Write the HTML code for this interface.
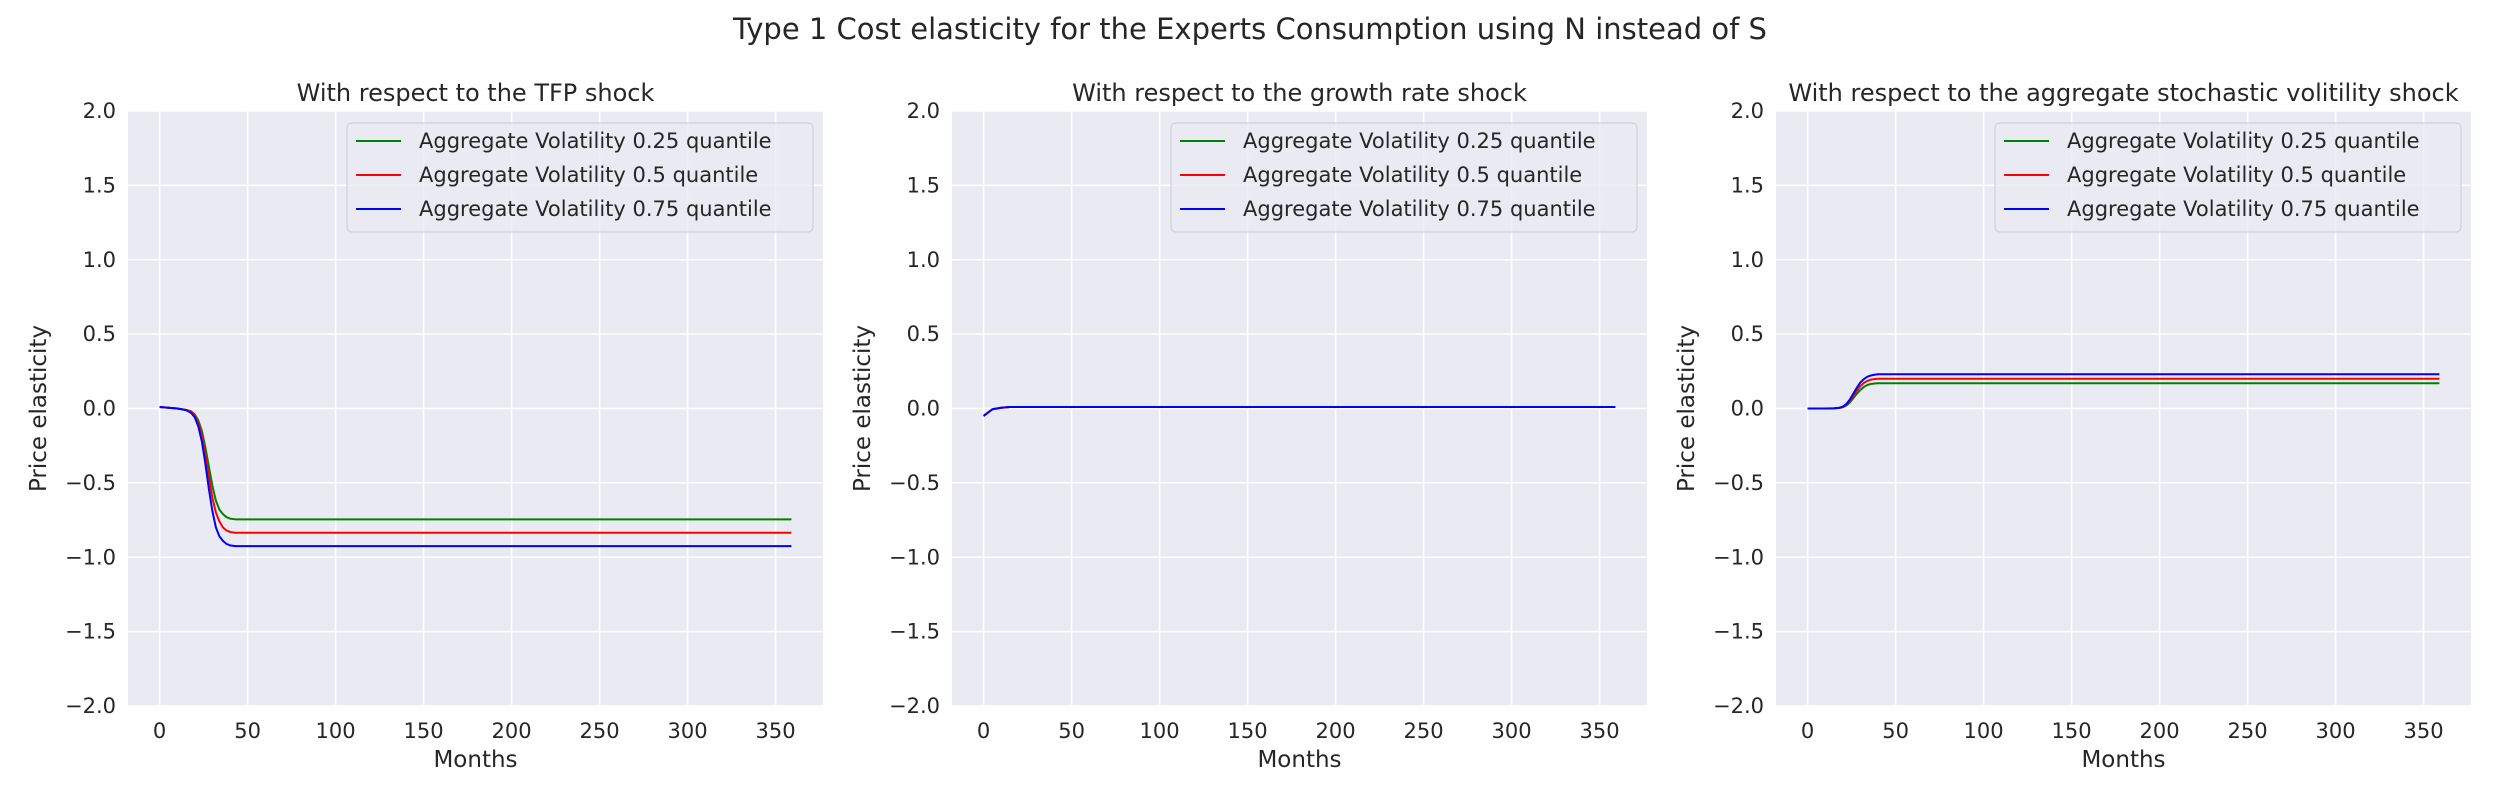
<!DOCTYPE html>
<html><head><meta charset="utf-8">
<style>
body{margin:0;background:#fff;}
svg{display:block;font-family:"DejaVu Sans","Liberation Sans",sans-serif;}
</style></head>
<body>
<svg id="fig" width="2500" height="800" viewBox="0 0 2500 800" xmlns="http://www.w3.org/2000/svg">
<text x="1250" y="39" font-size="29" text-anchor="middle" fill="#262626">Type 1 Cost elasticity for the Experts Consumption using N instead of S</text>
</svg>
<script>
const months = [0,5,10,15,18,20,22,24,26,28,30,32,34,36,38,40,43,46,50,60,100,200,300,359];
const tfpLow  = [0.01,0.005,0,-0.01,-0.02,-0.04,-0.08,-0.15,-0.26,-0.39,-0.52,-0.62,-0.68,-0.71,-0.73,-0.74,-0.745,-0.745,-0.745,-0.745,-0.745,-0.745,-0.745,-0.745];
const tfpMid  = [0.01,0.005,0,-0.01,-0.02,-0.05,-0.10,-0.18,-0.31,-0.46,-0.60,-0.70,-0.76,-0.80,-0.82,-0.83,-0.835,-0.835,-0.835,-0.835,-0.835,-0.835,-0.835,-0.835];
const tfpHigh = [0.01,0.005,0,-0.01,-0.03,-0.06,-0.12,-0.22,-0.37,-0.54,-0.69,-0.80,-0.86,-0.89,-0.91,-0.92,-0.925,-0.925,-0.925,-0.925,-0.925,-0.925,-0.925,-0.925];
const grLow   = [-0.05,-0.005,0.005,0.01,0.01,0.01,0.01,0.01,0.01,0.01,0.01,0.01,0.01,0.01,0.01,0.01,0.01,0.01,0.01,0.01,0.01,0.01,0.01,0.01];
const grMid   = [-0.05,-0.005,0.005,0.01,0.01,0.01,0.01,0.01,0.01,0.01,0.01,0.01,0.01,0.01,0.01,0.01,0.01,0.01,0.01,0.01,0.01,0.01,0.01,0.01];
const grHigh  = [-0.05,-0.005,0.005,0.01,0.01,0.01,0.01,0.01,0.01,0.01,0.01,0.01,0.01,0.01,0.01,0.01,0.01,0.01,0.01,0.01,0.01,0.01,0.01,0.01];
const volLow  = [0,0,0,0.001,0.003,0.008,0.02,0.04,0.07,0.10,0.125,0.145,0.158,0.165,0.168,0.17,0.17,0.17,0.17,0.17,0.17,0.17,0.17,0.17];
const volMid  = [0,0,0,0.001,0.004,0.01,0.025,0.05,0.085,0.12,0.15,0.172,0.186,0.194,0.198,0.2,0.2,0.2,0.2,0.2,0.2,0.2,0.2,0.2];
const volHigh = [0,0,0,0.002,0.005,0.012,0.03,0.06,0.10,0.14,0.175,0.198,0.214,0.222,0.227,0.23,0.23,0.23,0.23,0.23,0.23,0.23,0.23,0.23];
const xTicks = [0,50,100,150,200,250,300,350];
const yTicks = [-2.0,-1.5,-1.0,-0.5,0.0,0.5,1.0,1.5,2.0];
const panelTitles = ["With respect to the TFP shock","With respect to the growth rate shock","With respect to the aggregate stochastic volitility shock"];
const legendLabels = ["Aggregate Volatility 0.25 quantile","Aggregate Volatility 0.5 quantile","Aggregate Volatility 0.75 quantile"];
const colors = ["#008000","#ff0000","#0000ff"];
const panelSeries = [[tfpLow,tfpMid,tfpHigh],[grLow,grMid,grHigh],[volLow,volMid,volHigh]];

const NS="http://www.w3.org/2000/svg";
const svg=document.getElementById('fig');
function mk(tag,attrs,parent){const e=document.createElementNS(NS,tag);for(const k in attrs)e.setAttribute(k,attrs[k]);(parent||svg).appendChild(e);return e;}
const lefts=[128,952,1776], W=695, TOP=111, BOT=706;
const xmin=-17.95, xmax=376.95, ymin=-2, ymax=2;
function fmt(v){return v<0 ? "\u2212"+Math.abs(v).toFixed(1) : v.toFixed(1);}
panelSeries.forEach((series,p)=>{
  const L=lefts[p];
  const xs=v=>L+(v-xmin)/(xmax-xmin)*W;
  const ys=v=>BOT-(v-ymin)/(ymax-ymin)*(BOT-TOP);
  const g=mk('g',{});
  
  
  const bg=mk('rect',{x:L,y:TOP,width:W,height:BOT-TOP,fill:'#eaeaf2'},g);
  
  
  xTicks.forEach(t=>{
    const gl=mk('line',{x1:xs(t),x2:xs(t),y1:TOP,y2:BOT,stroke:'#fff','stroke-width':1.6},g);
    
    
    const tl=mk('text',{x:xs(t),y:BOT+32,'font-size':21,'text-anchor':'middle',fill:'#262626'},g);
    tl.textContent=t;
    
    
  });
  yTicks.forEach(t=>{
    const gl=mk('line',{x1:L,x2:L+W,y1:ys(t),y2:ys(t),stroke:'#fff','stroke-width':1.6},g);
    
    
    const tl=mk('text',{x:L-12,y:ys(t)+7,'font-size':21,'text-anchor':'end',fill:'#262626'},g);
    tl.textContent=fmt(t);
    
    
  });
  series.forEach((vals,i)=>{
    const d=vals.map((v,k)=>(k?'L':'M')+xs(months[k]).toFixed(2)+' '+ys(v).toFixed(2)).join(' ');
    const pa=mk('path',{d:d,fill:'none',stroke:colors[i],'stroke-width':2,'stroke-linejoin':'round'},g);
    
    
  });
  const tt=mk('text',{x:L+W/2,y:101,'font-size':24,'text-anchor':'middle',fill:'#262626'},g);
  tt.textContent=panelTitles[p];
  
  
  const xl=mk('text',{x:L+W/2,y:767,'font-size':23,'text-anchor':'middle',fill:'#262626'},g);
  xl.textContent='Months';
  
  
  const yl=mk('text',{x:0,y:0,'font-size':23,'text-anchor':'middle',fill:'#262626',transform:`translate(${L-82},${(TOP+BOT)/2}) rotate(-90)`},g);
  yl.textContent='Price elasticity';
  
  
  const lg=mk('g',{},g);
  
  
  mk('rect',{x:L+219,y:123,width:466,height:109,rx:5,fill:'#eaeaf2','fill-opacity':0.8,stroke:'#d0d0d8','stroke-width':1.2},lg);
  legendLabels.forEach((lab,i)=>{
    const y=141+i*34;
    const ll=mk('line',{x1:L+228,x2:L+273,y1:y,y2:y,stroke:colors[i],'stroke-width':2},lg);
    
    
    const lt=mk('text',{x:L+291,y:y+7,'font-size':21,fill:'#262626'},lg);
    lt.textContent=lab;
    
    
  });
});
</script>
</body></html>
